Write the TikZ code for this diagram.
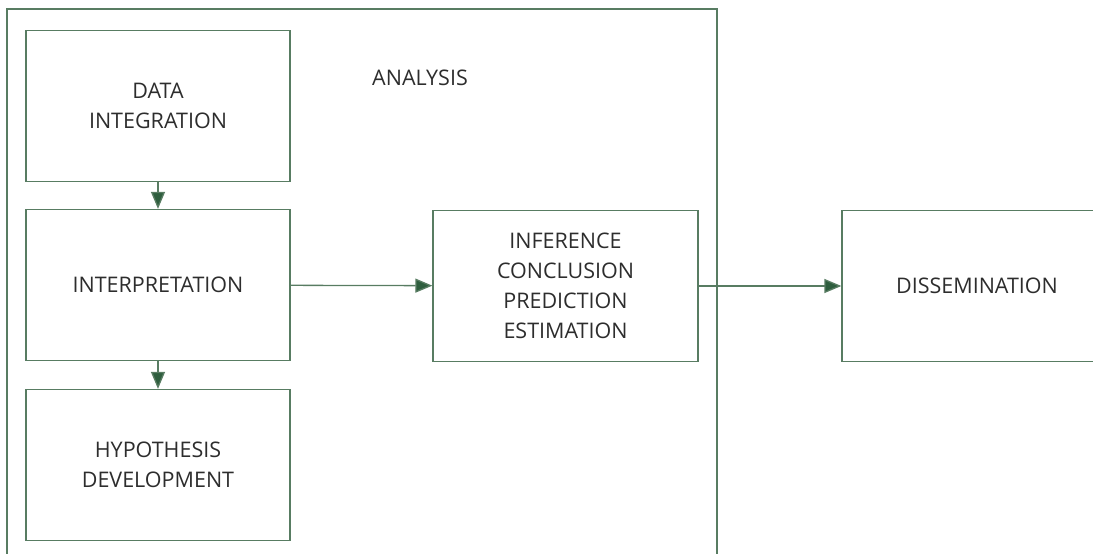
\documentclass[tikz,border=0pt]{standalone}
\usepackage{fontspec}
\setmainfont{Open Sans}
\usepackage{xcolor}
\usetikzlibrary{arrows.meta,positioning}
\definecolor{frame}{RGB}{88,124,98}
\definecolor{tip}{RGB}{46,94,62}
\definecolor{ink}{RGB}{45,45,45}

\begin{document}
\begin{tikzpicture}[
  x=1pt, y=1pt,
  line width=1.3pt,
  stage/.style={
    draw=frame,
    minimum width=264pt,
    minimum height=151pt,
    align=center,
    text=ink,
    font=\fontsize{21.5}{30}\selectfont
  },
  flow/.style={
    draw=frame,
    -{Triangle[length=17pt,width=14pt,fill=tip]}
  }
]
  \useasboundingbox (0,0) rectangle (1093,554);
  \draw[frame] (7,-10) rectangle (717,545);
  \node[text=ink,font=\fontsize{21.5}{30}\selectfont] (analysis) at (420,476) {ANALYSIS};
  \node[stage] (data) at (158,448) {DATA\\INTEGRATION};
  \node[stage] (interp) at (158,269) {INTERPRETATION};
  \node[stage] (hypo) at (158,89) {HYPOTHESIS\\DEVELOPMENT};
  \node[stage,minimum width=265pt] (infer) at (565.5,268)
    {INFERENCE\\CONCLUSION\\PREDICTION\\ESTIMATION};
  \node[stage,minimum width=270pt] (dissem) at (977,268) {DISSEMINATION};
  \draw[flow] (data) -- (interp);
  \draw[flow] (interp) -- (hypo);
  \draw[flow] (interp) -- (infer);
  \draw[flow] (infer) -- (dissem);
\end{tikzpicture}
\end{document}
